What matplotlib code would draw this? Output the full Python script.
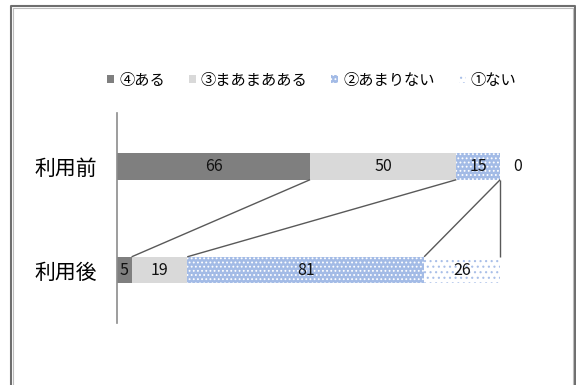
import matplotlib
matplotlib.use("Agg")
import matplotlib.pyplot as plt
from matplotlib.lines import Line2D
import numpy as np

plt.rcParams['font.family'] = ['Noto Sans CJK JP', 'DejaVu Sans']
plt.rcParams['hatch.linewidth'] = 0.8

categories = ['利用前', '利用後']
series_names = ['④ある', '③まあまあある', '②あまりない', '①ない']
values = {
    '④ある': [66, 5],
    '③まあまあある': [50, 19],
    '②あまりない': [15, 81],
    '①ない': [0, 26],
}
face = ['#7f7f7f', '#d9d9d9', '#a3bbe6', '#ffffff']
edge = ['#7f7f7f', '#d9d9d9', '#ffffff', '#a9bfe8']
hatch = [None, None, '....', '...']

fig = plt.figure(figsize=(5.76, 3.85), dpi=100)
ax = fig.add_axes([117/576, 62/385, 438.75/576, 210/385])

y = np.arange(len(categories))
h = 0.255
left = np.zeros(len(categories))
bounds = []
for i, name in enumerate(series_names):
    v = np.array(values[name], dtype=float)
    ax.barh(y, v, left=left, height=h, color=face[i], edgecolor=edge[i],
            hatch=hatch[i], linewidth=0, label=name)
    for j in range(len(categories)):
        xpos = left[j] + v[j] / 2 if v[j] > 0 else left[j] + 6
        ax.text(xpos, y[j], f'{int(v[j])}', ha='center', va='center',
                fontsize=11.5, color='#111111')
    left = left + v
    bounds.append(left.copy())

# series lines connecting cumulative boundaries
for b in bounds:
    ax.plot([b[0], b[1]], [y[0] + h / 2, y[1] - h / 2], color='#595959', lw=1.0,
            solid_capstyle='butt', zorder=1)

ax.set_xlim(0, 150)
ax.set_ylim(1.512, -0.517)
for s in ['top', 'right', 'bottom']:
    ax.spines[s].set_visible(False)
ax.spines['left'].set_color('#8c8c8c')
ax.spines['left'].set_linewidth(1.2)
ax.set_xticks([])
ax.set_yticks(y)
ax.set_yticklabels(categories, fontsize=15)
ax.tick_params(axis='y', length=0, pad=14)

fig.legend(loc='center left', bbox_to_anchor=(107/576, 1 - 80/385), ncol=4,
           frameon=False, fontsize=11, handlelength=0.45, handleheight=0.45,
           handletextpad=0.35, columnspacing=1.55, borderaxespad=0, borderpad=0)

# outer frame
fig.add_artist(Line2D([10.5/576, 10.5/576, 574.5/576, 574.5/576],
                      [0, 1 - 5.5/385, 1 - 5.5/385, 0], transform=fig.transFigure,
                      color='#6e6e6e', lw=1.5))
fig.add_artist(Line2D([12.5/576, 12.5/576, 572.5/576, 572.5/576],
                      [0, 1 - 7.5/385, 1 - 7.5/385, 0], transform=fig.transFigure,
                      color='#bdbdbd', lw=0.8))

fig.savefig('out.png', dpi=100)
